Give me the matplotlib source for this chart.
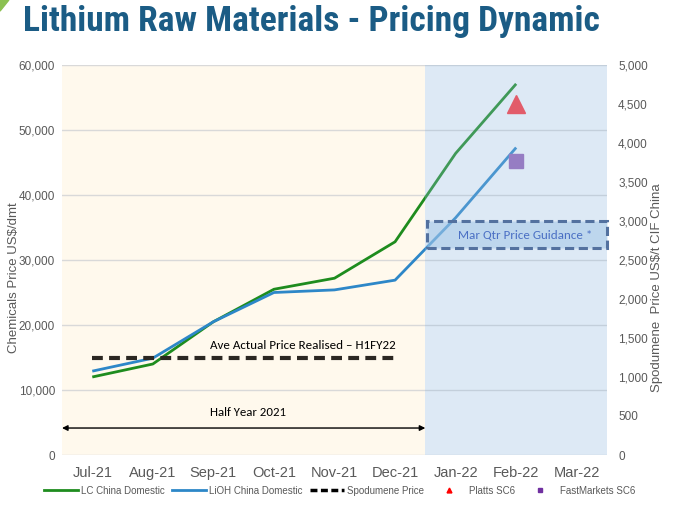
import matplotlib
matplotlib.use("Agg")
import matplotlib.pyplot as plt
from matplotlib import font_manager
from matplotlib.lines import Line2D
from matplotlib.patches import Rectangle, Polygon
from matplotlib.ticker import FuncFormatter

# data
months = ["Jul-21", "Aug-21", "Sep-21", "Oct-21", "Nov-21", "Dec-21", "Jan-22", "Feb-22", "Mar-22"]
lc_china = [12000, 14000, 20500, 25500, 27200, 32800, 46400, 57100]      # US$/dmt, Jul..Feb
lioh_china = [12900, 14900, 20500, 25000, 25400, 26900, 36500, 47300]    # US$/dmt, Jul..Feb
spod_realised = [1250, 1250, 1250, 1250, 1250, 1250]                     # US$/t, Jul..Dec
platts_feb = 4500
fastmarkets_feb = 3770
guidance_low = 2650
guidance_high = 3000

GRAY = "#595959"


def add_commas(value, _):
    return "{:,}".format(int(value))


def pick_font(candidates):
    names = {f.name for f in font_manager.fontManager.ttflist}
    for c in candidates:
        if c in names:
            return c
    return "DejaVu Sans"


sans = pick_font(["Liberation Sans", "Arial", "DejaVu Sans"])
calibri = pick_font(["Carlito", "Lato", "Open Sans", "DejaVu Sans"])
title_font = pick_font(["Liberation Sans Narrow", "Roboto Condensed", "DejaVu Sans Condensed", "Roboto"])
plt.rcParams["font.family"] = [sans, "DejaVu Sans"]

fig = plt.figure(figsize=(6.83, 5.05), dpi=100)
ax = fig.add_axes([62 / 683, 50 / 505, 545 / 683, 390 / 505])
ax2 = ax.twinx()

x = list(range(len(lc_china)))

# half-year background
ax.axvspan(-0.5, 5.5, color="#FFF9ED", zorder=0, lw=0)
ax.set_axisbelow(True)
ax.grid(axis="y", color="#D9D9D9", lw=1)
ax.grid(axis="x", visible=False)

ax.plot(x, lc_china, color="#1E8C1E", lw=2, zorder=2, solid_capstyle="butt")
ax.plot(x, lioh_china, color="#2D87C8", lw=2, zorder=2, solid_capstyle="butt")

ax.set_xlim(-0.5, 8.5)
ax.set_ylim(0, 60000)
ax.set_xticks(range(len(months)))
ax.set_xticklabels(months)
ax.set_yticks(range(0, 60001, 10000))
ax.yaxis.set_major_formatter(FuncFormatter(add_commas))
ax.tick_params(axis="x", length=0, pad=8, labelsize=10.5, labelcolor=GRAY)
ax.tick_params(axis="y", length=0, pad=5, labelsize=8.5, labelcolor=GRAY)
ax.set_ylabel("Chemicals Price US$/dmt", fontsize=9.5, color=GRAY)
ax.yaxis.set_label_coords(-0.077, 0.455)

# half year arrow
ax.annotate("", xy=(-0.5, 4150), xytext=(5.5, 4150),
            arrowprops=dict(arrowstyle="<|-|>", color="black", lw=1,
                            mutation_scale=8, shrinkA=0, shrinkB=0))
ax.text(1.95, 6600, "Half Year 2021", fontsize=9.2, family=calibri, va="center", ha="left")

# spodumene axis
ax2.set_ylim(0, 5000)
ax2.set_yticks(range(0, 5001, 500))
ax2.yaxis.set_major_formatter(FuncFormatter(add_commas))
ax2.tick_params(axis="y", length=0, pad=8, labelsize=8.5, labelcolor=GRAY)
ax2.set_ylabel("Spodumene  Price US$/t CIF China", fontsize=9.5, color=GRAY)
ax2.yaxis.set_label_coords(1.081, 0.43, transform=ax.transAxes)

for a in (ax, ax2):
    for s in a.spines.values():
        s.set_visible(False)

ax2.plot(range(len(spod_realised)), spod_realised, color="#2B2722", lw=3,
         dashes=(2.6, 1.5), zorder=2)
ax2.text(1.95, 1400, "Ave Actual Price Realised \u2013 H1FY22", fontsize=9.4,
         family=calibri, va="center", ha="left")

# guidance quarter overlay, drawn over the lines so they fade
ax2.axvspan(5.5, 8.5, color="#91B9E1", alpha=0.3, zorder=1.5, lw=0)

box = Rectangle((5.52, guidance_low), 2.98, guidance_high - guidance_low,
                facecolor=(158 / 255, 196 / 255, 230 / 255, 0.5), edgecolor="#53719F", lw=2.2,
                linestyle=(0, (3, 1.5)), zorder=3, clip_on=False)
ax2.add_patch(box)

ax2.text(7.15, (guidance_low + guidance_high) / 2, "Mar Qtr Price Guidance *",
         fontsize=9.4, family=calibri, color="#4A6FC4", va="center", ha="center", zorder=4)

ax2.plot([7], [platts_feb], marker="^", ms=13, color="#E25C6A", ls="none", zorder=4)
ax2.plot([7], [fastmarkets_feb], marker="s", ms=10, color="#967DC3", ls="none", zorder=4)

# legend
handles = [
    Line2D([], [], color="#1E8C1E", lw=2),
    Line2D([], [], color="#2D87C8", lw=2),
    Line2D([], [], color="black", lw=2.5, dashes=(2, 1)),
    Line2D([], [], color="red", marker="^", ls="none", ms=3.5),
    Line2D([], [], color="#7030A0", marker="s", ls="none", ms=3.5),
]
labels = ["LC China Domestic", "LiOH China Domestic", "Spodumene Price", "Platts SC6", "FastMarkets SC6"]
leg = fig.legend(handles, labels, loc="center", bbox_to_anchor=(0.497, 0.028), ncol=5,
                 frameon=False, fontsize=7, handlelength=3.5, handletextpad=0.3,
                 columnspacing=0.8)
for t in leg.get_texts():
    t.set_color(GRAY)

# corner decoration
fig.patches.append(Polygon([(0, 1), (0.013, 1), (0, 0.978)], closed=True,
                           transform=fig.transFigure, color="#8CC152"))

# title, scaled to the reference width
title = fig.text(23 / 683, 1 - 22 / 505, "Lithium Raw Materials - Pricing Dynamic",
                 family=title_font, weight="bold", color="#1B5C85", fontsize=24,
                 va="center", ha="left")
fig.canvas.draw()
w = title.get_window_extent().width
title.set_fontsize(24 * 578 / w)

fig.savefig("out.png", dpi=100)
